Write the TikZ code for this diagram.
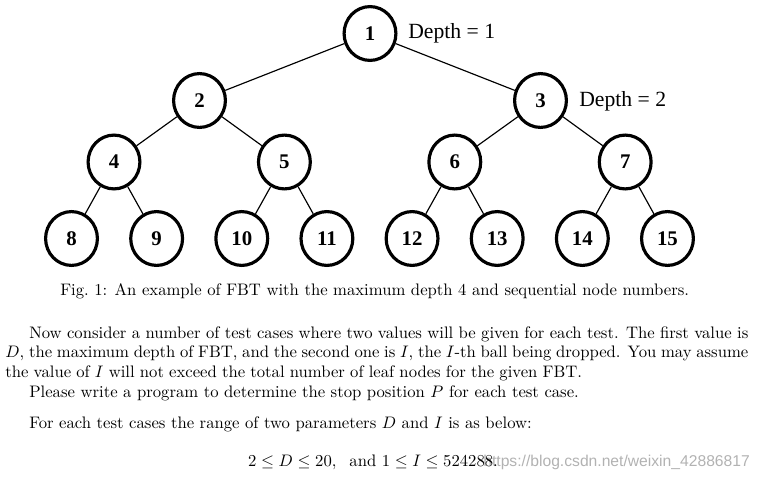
\documentclass[tikz,border=0pt]{standalone}
\usepackage{fontspec}
\usepackage{tikz}
\usetikzlibrary{shapes.geometric}
\newfontfamily\treefont{Liberation Serif}
\newfontfamily\markfont{Liberation Sans}

\tikzset{
  fbtnode/.style={ellipse, draw, line width=1.9pt, minimum width=31.1pt, minimum height=32.3pt,
    inner sep=0pt, font=\treefont\bfseries\fontsize{12.5}{13}\selectfont},
  depthlabel/.style={anchor=base west, inner sep=0pt, font=\treefont\fontsize{13}{14}\selectfont},
  fbtedge/.style={line width=0.7pt},
  bodytext/.style={anchor=base west, inner sep=0pt}
}

\begin{document}
\begin{tikzpicture}[x=0.6pt, y=-0.6pt]
          \useasboundingbox (0, 0) rectangle (760, 478);
          % the tree
          \node[fbtnode] (n1) at (370, 33.5) {1};
          \node[fbtnode] (n2) at (199.5, 100.5) {2};
          \node[fbtnode] (n3) at (540.5, 100.5) {3};
          \foreach \i in {4,...,7}
            \node[fbtnode] (n\i) at ({114+170.4*(\i-4)}, 162) {\i};
          \foreach \i in {8,...,15}
            \node[fbtnode] (n\i) at ({71.5+85.14*(\i-8)}, 238.5) {\i};
          \foreach \p/\c in {1/2, 1/3, 2/4, 2/5, 3/6, 3/7, 4/8, 4/9, 5/10, 5/11, 6/12, 6/13, 7/14, 7/15}
            \draw[fbtedge] (n\p) -- (n\c);
          \node[depthlabel] (d1) at (408, 39) {Depth = 1};
          \node[depthlabel] (d2) at (579, 106) {Depth = 2};
          % caption and text, line by line
          \node[bodytext] (cap) at (60, 295.7)
            {Fig.~1: An example of FBT with the maximum depth 4 and sequential node numbers.};
          \node[bodytext] (line1) at (29, 338.3)
            {\makebox[431.4pt][s]{Now consider a number of test cases where two values will be given for each test. The first value is}};
          \node[bodytext] (line2) at (5, 357.7)
            {\makebox[445.8pt][s]{$D$, the maximum depth of FBT, and the second one is $I$, the $I$-th ball being dropped. You may assume}};
          \node[bodytext] (line3) at (5, 377.7)
            {\spaceskip=3.33pt plus 1pt minus 2.5pt
            \makebox[346pt][s]{the value of $I$ will not exceed the total number of leaf nodes for the given FBT.}};
          \node[bodytext] (line4) at (29, 397.7)
            {Please write a program to determine the stop position $P$ for each test case.};
          \node[bodytext] (range) at (29, 428.3)
            {For each test cases the range of two parameters $D$ and $I$ is as below:};
          \node[bodytext, text=black!30, font=\markfont\fontsize{9.4}{10}\selectfont] (mark) at (483, 466.7)
            {https://blog.csdn.net/weixin\_42886817};
          \node[anchor=base, inner sep=0pt] (bounds) at (373, 466.7)
            {$2 \le D \le 20,\;\mbox{ and }1 \le I \le 524288.$};
        \end{tikzpicture}
\end{document}
